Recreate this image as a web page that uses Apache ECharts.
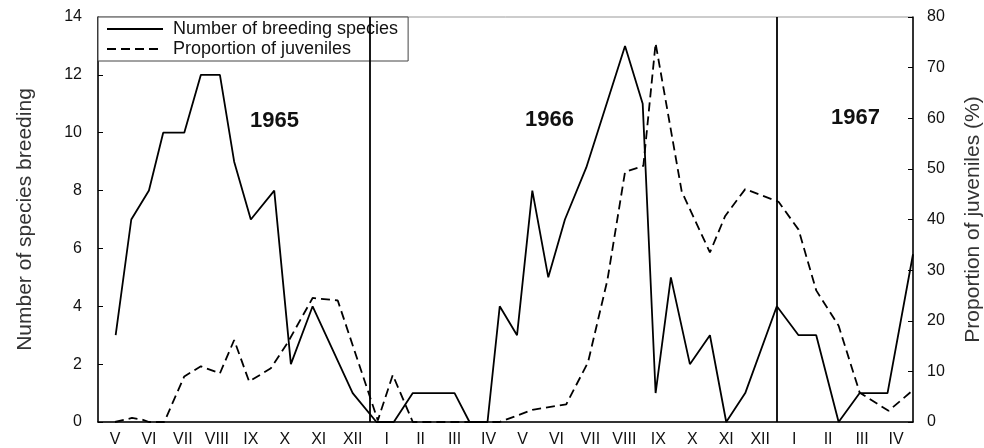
<!DOCTYPE html>
<html>
<head>
<meta charset="utf-8">
<script src="https://cdn.jsdelivr.net/npm/echarts@6/dist/echarts.min.js"></script>
<style>
html,body{margin:0;padding:0;background:#fff;}
#chart{width:984px;height:448px;}
</style>
</head>
<body>
<div id="chart"></div>
<script>
// Month categories (May 1965 – April 1967)
var monthLabels = ['V','VI','VII','VIII','IX','X','XI','XII','I','II','III','IV',
                   'V','VI','VII','VIII','IX','X','XI','XII','I','II','III','IV'];
// Positions in months from start of May 1965
var breedX = [0.52,0.98,1.5,1.92,2.54,3.03,3.59,4.01,4.5,5.19,5.68,6.32,7.5,8.2,8.71,9.27,10.5,10.94,11.47,11.83,12.34,12.79,13.26,13.75,14.38,15.52,16.04,16.42,16.87,17.43,18.02,18.5,19.06,19.99,20.63,21.15,21.81,22.43,23.25,24];
var breedY = [3,7,8,10,10,12,12,9,7,8,2,4,1,0,0,1,1,0,0,4,3,8,5,7,8.8,13,11,1,5,2,3,0,1,4,3,3,0,1,1,5.8];
var juvX = [0.5,1.0,1.3,1.5,1.95,2.54,3.03,3.59,4.01,4.45,5.09,5.58,6.32,7.06,8.24,8.68,9.27,11.83,12.79,13.79,14.43,15.0,15.52,16.06,16.42,17.19,18.02,18.47,19.06,20.04,20.63,21.15,21.81,22.43,23.28,24];
var juvY = [0,0.8,0.5,0,0,9,11,9.6,16.2,8,10.6,15.6,24.5,24,0.3,9.3,0,0,2.4,3.5,11.8,28,49.4,50.6,74.8,45.5,33.5,40.7,46,43.5,38,26,19,5.8,2.2,6.3];
var yearDividers = [8, 20];
var yearLabels = ['1965','1966','1967'];

function pairs(xs, ys){ return xs.map(function(x,i){ return [x, ys[i]]; }); }

var FONT = 'Liberation Sans, Arial, sans-serif';
var chart = echarts.init(document.getElementById('chart'), null, {renderer:'canvas'});
chart.setOption({
  animation:false,
  backgroundColor:'#fff',
  textStyle:{fontFamily:FONT},
  grid:{left:98, right:71, top:17, bottom:26, show:true, borderColor:'#999', borderWidth:1,
        containLabel:false, outerBoundsMode:'none'},
  legend:{
    left:98, top:17, orient:'vertical',
    data:['Number of breeding species','Proportion of juveniles'],
    itemWidth:56, itemHeight:14, itemGap:2,
    padding:[3,10,3,8],
    borderColor:'#444', borderWidth:1, borderRadius:0, backgroundColor:'#fff',
    itemStyle:{opacity:0},
    textStyle:{fontSize:18, color:'#111', fontFamily:FONT, padding:[0,0,0,5]}
  },
  xAxis:[
    {type:'category', data:monthLabels, boundaryGap:true, position:'bottom',
     axisLine:{lineStyle:{color:'#000', width:1.5}},
     axisTick:{inside:true, length:5, interval:0, lineStyle:{color:'#000'}},
     axisLabel:{interval:0, fontSize:16, color:'#111', margin:10, fontFamily:FONT},
     splitLine:{show:false}},
    {type:'value', min:0, max:24, show:false}
  ],
  yAxis:[
    {type:'value', min:0, max:14, interval:2, position:'left',
     name:'Number of species breeding', nameLocation:'middle', nameGap:62,
     nameTextStyle:{fontSize:21, color:'#333', fontFamily:FONT},
     axisLine:{show:true, lineStyle:{color:'#000', width:1.5}},
     axisTick:{show:true, inside:true, length:5, lineStyle:{color:'#000'}},
     axisLabel:{fontSize:16, color:'#111', margin:16, fontFamily:FONT},
     splitLine:{show:false}},
    {type:'value', min:0, max:80, interval:10, position:'right',
     name:'Proportion of juveniles (%)', nameLocation:'middle', nameGap:50,
     nameTextStyle:{fontSize:21, color:'#333', fontFamily:FONT},
     axisLine:{show:true, lineStyle:{color:'#000', width:1.5}},
     axisTick:{show:true, inside:true, length:5, lineStyle:{color:'#000'}},
     axisLabel:{fontSize:16, color:'#111', margin:14, fontFamily:FONT},
     splitLine:{show:false}}
  ],
  series:[
    {name:'Number of breeding species', type:'line', xAxisIndex:1, yAxisIndex:0,
     data:pairs(breedX, breedY), symbol:'none', smooth:false,
     lineStyle:{color:'#000', width:1.8}, itemStyle:{color:'#000'},
     markLine:{silent:true, symbol:'none', label:{show:false},
       lineStyle:{color:'#000', width:1.8, type:'solid'},
       data:yearDividers.map(function(v){ return {xAxis:v}; })}
    },
    {name:'Proportion of juveniles', type:'line', xAxisIndex:1, yAxisIndex:1,
     data:pairs(juvX, juvY), symbol:'none', smooth:false,
     lineStyle:{color:'#000', width:1.8, type:[9,5]}, itemStyle:{color:'#000'}}
  ],
  graphic:[
    {type:'text', left:250, top:110, style:{text:yearLabels[0], font:'bold 22px '+FONT, fill:'#111'}},
    {type:'text', left:525, top:109, style:{text:yearLabels[1], font:'bold 22px '+FONT, fill:'#111'}},
    {type:'text', left:831, top:107, style:{text:yearLabels[2], font:'bold 22px '+FONT, fill:'#111'}}
  ]
});
</script>
</body>
</html>
